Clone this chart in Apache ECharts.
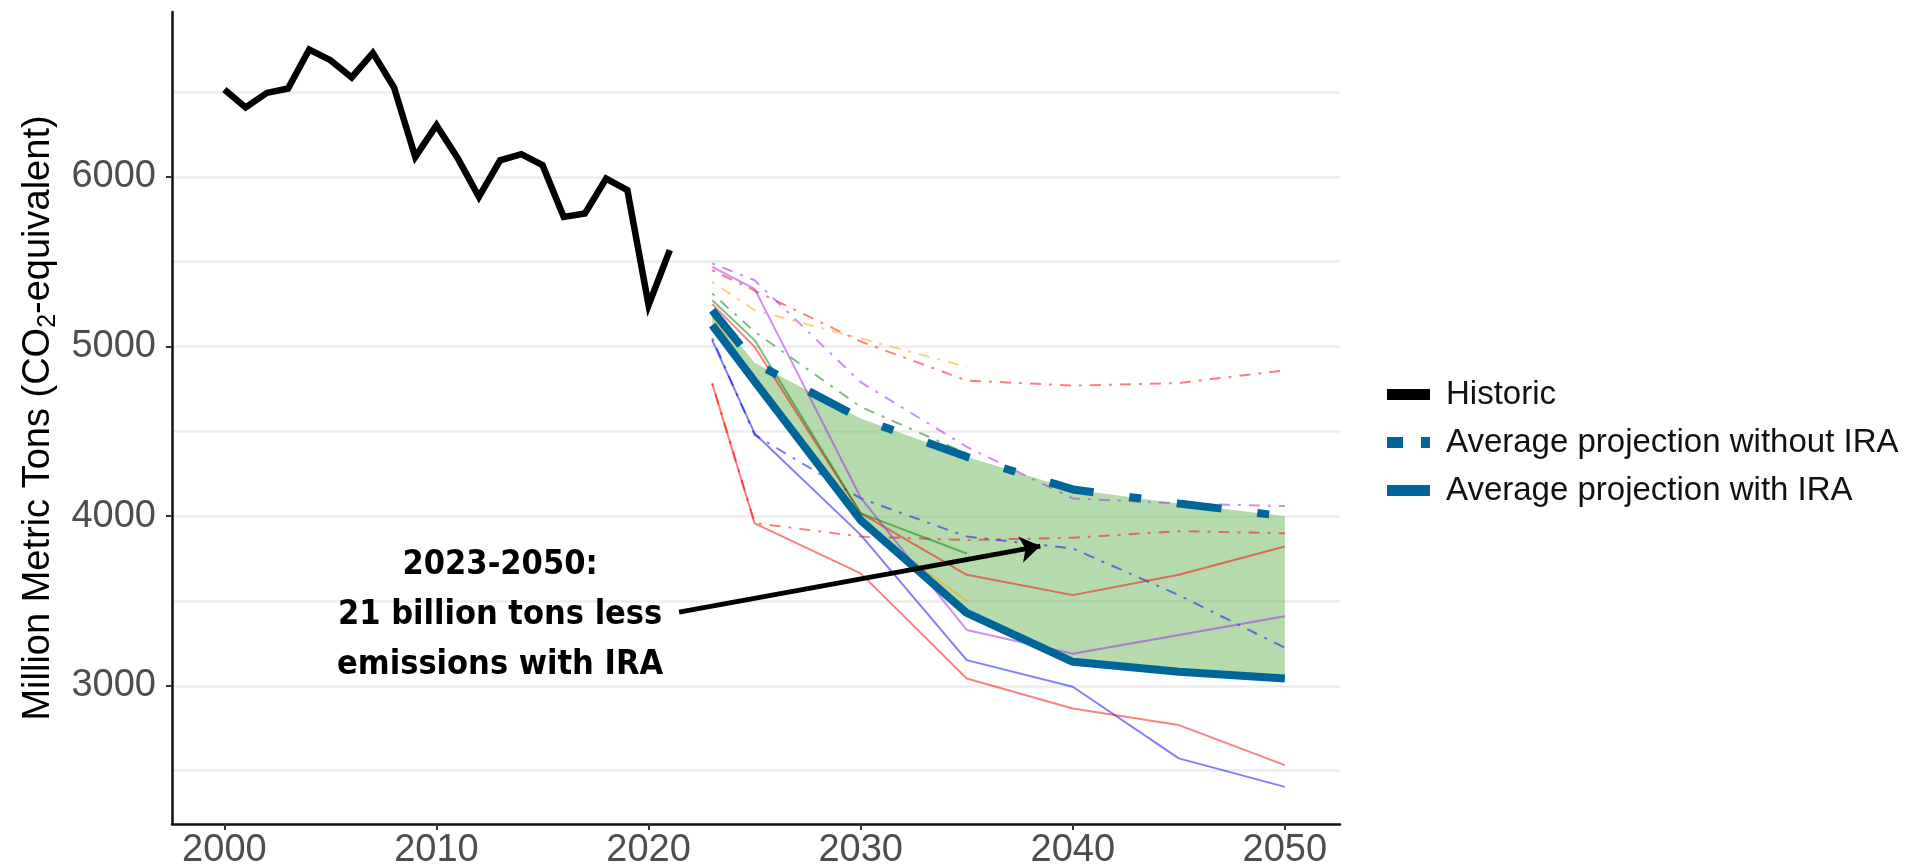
<!DOCTYPE html>
<html><head><meta charset="utf-8">
<script src="https://cdn.jsdelivr.net/npm/echarts@6/dist/echarts.min.js"></script>
<style>html,body{margin:0;padding:0;background:#fff}#c{width:1906px;height:868px}</style>
</head><body><div id="c"></div>
<script>
// ---- data ----
const histYears = [2000,2001,2002,2003,2004,2005,2006,2007,2008,2009,2010,2011,2012,2013,2014,2015,2016,2017,2018,2019,2020,2021];
const histValues = [6515,6409,6495,6521,6751,6688,6586,6731,6527,6118,6305,6110,5882,6098,6134,6069,5764,5784,5990,5922,5244,5568];
const projYears = [2023,2025,2030,2035,2040,2045,2050];
const avgWithIRA = [5126,4795,3977,3430,3142,3083,3044];
const avgWithoutIRA = [5214,4904,4576,4350,4158,4075,4000];
const blueWith = [5038,4488,3890,3152,2995,2573,2405];
const blueWithout = [5050,4480,4105,3880,3810,3535,3225];
const redAWith = [4783,3958,3663,3044,2867,2769,2533];
const redAWithout = [4783,3960,3880,3860,3873,3912,3899];
const redBWith = [5250,4998,4018,3655,3535,3655,3822];
const redBWithout = [5450,5330,5030,4800,4770,4785,4860];
const purpleWith = [5470,5340,4110,3330,3190,3300,3410];
const purpleWithout = [5490,5391,4790,4409,4105,4075,4060];
const greenWith = [5273,5038,4017,3780];
const greenWithout = [5313,5087,4645,4370];
const orangeWith = [5180,4800,3960,3500];
const orangeWithout = [5381,5214,5048,4880];
const xTicks = [2000,2010,2020,2030,2040,2050];
const yTicks = [3000,4000,5000,6000];
const yGrid = [2500,3000,3500,4000,4500,5000,5500,6000,6500];
const legendNames = ['Historic','Average projection without IRA','Average projection with IRA'];
const annotationLines = ['2023-2050:','21 billion tons less','emissions with IRA'];
const annotationAt = [2013.0, 3418];
const arrowFrom = [2021.44, 3435];
const arrowTo = [2038.47, 3824];

// ---- helpers ----
const pairs = (xs, ys) => ys.map((v, i) => [xs[i], v]);

const models = [
  {color:'#0000ff', w: blueWith, wo: blueWithout},
  {color:'#ff0000', w: redAWith, wo: redAWithout},
  {color:'#ff0000', w: redBWith, wo: redBWithout},
  {color:'#a020f0', w: purpleWith, wo: purpleWithout},
  {color:'#008000', w: greenWith, wo: greenWithout},
  {color:'#ffa500', w: orangeWith, wo: orangeWithout}
];
const dotdash = [3, 8, 11, 8];
const thin = [];
models.forEach(m => {
  thin.push({type:'line', data: pairs(projYears, m.w), symbol:'none', silent:true, z:3,
    lineStyle:{color:m.color, width:2, opacity:0.5}});
  thin.push({type:'line', data: pairs(projYears, m.wo), symbol:'none', silent:true, z:3,
    lineStyle:{color:m.color, width:2, opacity:0.5, type: dotdash}});
});

const FONT = 'Liberation Sans, Arial, sans-serif';
const chart = echarts.init(document.getElementById('c'), null, {renderer:'canvas'});
const option = {
  animation:false,
  backgroundColor:'#ffffff',
  grid:{left:172, right:566, top:12, bottom:44, containLabel:false, outerBoundsMode:'none'},
  xAxis:{type:'value', min:1997.53, max:2052.6,
    axisLine:{show:true, onZero:false, lineStyle:{color:'#111', width:2.5}},
    axisTick:{show:true, customValues:xTicks, length:6, lineStyle:{color:'#333', width:2}},
    axisLabel:{customValues:xTicks, margin:8, fontSize:38, color:'#4d4d4d', fontFamily:FONT,
      formatter: v => String(v)},
    splitLine:{show:false}},
  yAxis:{type:'value', min:2186, max:6972,
    name:'{a|Million Metric Tons (CO}{s|2}{a|-equivalent)}',
    nameLocation:'middle', nameRotate:90, nameGap:106,
    nameTextStyle:{color:'#000', fontFamily:FONT,
      rich:{a:{fontSize:38, lineHeight:44, fontFamily:FONT, color:'#000'},
            s:{fontSize:25, lineHeight:25, verticalAlign:'bottom', fontFamily:FONT, color:'#000'}}},
    axisLine:{show:true, onZero:false, lineStyle:{color:'#111', width:2.5}},
    axisTick:{show:true, customValues:yTicks, length:6, lineStyle:{color:'#333', width:2}},
    axisLabel:{customValues:yTicks, margin:16, fontSize:38, color:'#4d4d4d', fontFamily:FONT,
      formatter: v => String(v)},
    splitLine:{show:false}},
  legend:{orient:'vertical', left:1387, top:378, padding:0, itemWidth:43, itemHeight:11, itemGap:15,
    symbolKeepAspect:false,
    textStyle:{fontSize:33, lineHeight:33, color:'#111', fontFamily:FONT, padding:[0,0,0,11]},
    data:[
      {name:legendNames[0], icon:'rect', itemStyle:{color:'#000'}},
      {name:legendNames[1], icon:'path://M0,0H16V10H0Z M34,0H43V10H34Z', itemStyle:{color:'#006699'}},
      {name:legendNames[2], icon:'rect', itemStyle:{color:'#006699'}}
    ]},
  series:[
    {type:'line', data:[[2000, 6000]], symbol:'none', silent:true, z:0, lineStyle:{opacity:0},
      markLine:{silent:true, z:0, symbol:['none','none'], label:{show:false},
        lineStyle:{color:'#ececec', width:2.5, type:'solid'},
        data: yGrid.map(v => ({yAxis:v}))}},
    {type:'custom', silent:true, z:1,
      data: projYears.map((y, i) => [y, avgWithIRA[i], avgWithoutIRA[i]]),
      encode:{x:0, y:[1,2]},
      renderItem:(params, api) => {
        if (params.dataIndex !== 0) return null;
        const top = projYears.map((y, i) => api.coord([y, avgWithoutIRA[i]]));
        const bot = projYears.map((y, i) => api.coord([y, avgWithIRA[i]])).reverse();
        return {type:'polygon', shape:{points: top.concat(bot)}, style:{fill:'rgba(108,182,88,0.5)'}};
      }},
    ...thin,
    {name:legendNames[0], type:'line', data:pairs(histYears, histValues), symbol:'none', z:5,
      itemStyle:{color:'#000'}, lineStyle:{color:'#000', width:6.5, join:'miter'}},
    {name:legendNames[1], type:'line', data:pairs(projYears, avgWithoutIRA), symbol:'none', z:5,
      itemStyle:{color:'#006699'}, lineStyle:{color:'#006699', width:8, type:[45,36,12,36], cap:'butt'}},
    {name:legendNames[2], type:'line', data:pairs(projYears, avgWithIRA), symbol:'none', z:5,
      itemStyle:{color:'#006699'}, lineStyle:{color:'#006699', width:8}},
    {type:'line', data:[annotationAt], symbol:'none', silent:true, z:6, lineStyle:{opacity:0},
      markLine:{silent:true, z:10, symbol:['none','arrow'], symbolSize:20, label:{show:false},
        lineStyle:{color:'#000', width:5, type:'solid'},
        data:[[{coord:arrowFrom},{coord:arrowTo}]]},
      markPoint:{silent:true, z:10, symbol:'circle', symbolSize:0,
        label:{show:true, position:'inside', formatter:annotationLines.join('\n'),
          fontSize:34, lineHeight:50, fontWeight:'bold', color:'#000', align:'center',
          fontFamily:'Liberation Sans Narrow, DejaVu Sans Condensed, sans-serif'},
        data:[{coord:annotationAt}]}}
  ]
};
chart.setOption(option);
</script></body></html>
